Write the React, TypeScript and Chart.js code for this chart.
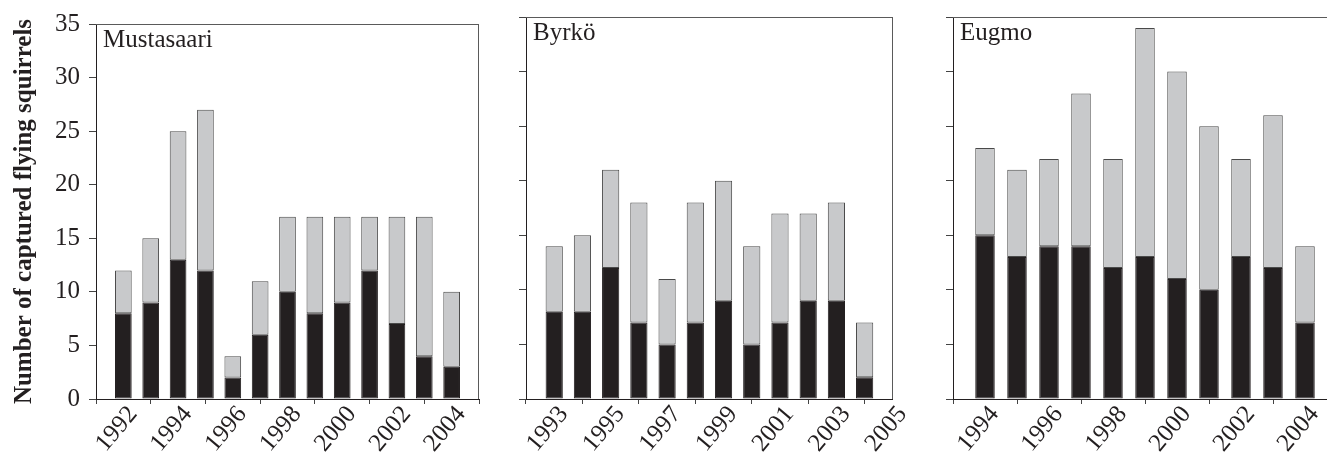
import React, { useEffect, useRef } from "react";
import { Chart, registerables } from "chart.js";

Chart.register(...registerables);

const FONT = '"Liberation Serif", "Times New Roman", serif';
const INK = "#231f20";
const LIGHT = "#c8c9cb";

const yTickValues = [0, 5, 10, 15, 20, 25, 30, 35];
const yTitle = "Number of captured flying squirrels";

// Mustasaari
const mustYears = [1992, 1993, 1994, 1995, 1996, 1997, 1998, 1999, 2000, 2001, 2002, 2003, 2004];
const mustBlack = [8, 9, 13, 12, 2, 6, 10, 8, 9, 12, 7, 4, 3];
const mustGray = [4, 6, 12, 15, 2, 5, 7, 9, 8, 5, 10, 13, 7];
const mustTicks = [1992, 1994, 1996, 1998, 2000, 2002, 2004];

// Byrkö
const byrYears = [1993, 1994, 1995, 1996, 1997, 1998, 1999, 2000, 2001, 2002, 2003, 2004];
const byrBlack = [8, 8, 12, 7, 5, 7, 9, 5, 7, 9, 9, 2];
const byrGray = [6, 7, 9, 11, 6, 11, 11, 9, 10, 8, 9, 5];
const byrTicks = [1993, 1995, 1997, 1999, 2001, 2003, 2005];

// Eugmo
const eugYears = [1994, 1995, 1996, 1997, 1998, 1999, 2000, 2001, 2002, 2003, 2004];
const eugBlack = [15, 13, 14, 14, 12, 13, 11, 10, 13, 12, 7];
const eugGray = [8, 8, 8, 14, 10, 21, 19, 15, 9, 14, 7];
const eugTicks = [1994, 1996, 1998, 2000, 2002, 2004];

type Panel = {
  name: string;
  years: number[];
  black: number[];
  gray: number[];
  ticks: number[];
  xMin: number;
  xMax: number;
  left: number;
  width: number;
  yWidth: number;
  padRight: number;
  showY: boolean;
};

const panels: Panel[] = [
  { name: "Mustasaari", years: mustYears, black: mustBlack, gray: mustGray, ticks: mustTicks, xMin: 1991, xMax: 2005, left: 0, width: 490, yWidth: 96, padRight: 11, showY: true },
  { name: "Byrkö", years: byrYears, black: byrBlack, gray: byrGray, ticks: byrTicks, xMin: 1992, xMax: 2005, left: 490, width: 420, yWidth: 36, padRight: 2, showY: false },
  { name: "Eugmo", years: eugYears, black: eugBlack, gray: eugGray, ticks: eugTicks, xMin: 1993, xMax: 2005, left: 910, width: 430, yWidth: 43, padRight: 3, showY: false },
];

const framePlugin = {
  id: "frameAndLabel",
  afterDatasetsDraw(chart: any, _args: any, opts: any) {
    const { ctx, chartArea: a } = chart;
    ctx.save();
    ctx.strokeStyle = "#5a5a5a";
    ctx.lineWidth = 1;
    ctx.beginPath();
    ctx.moveTo(a.left, Math.round(a.top) + 0.5);
    ctx.lineTo(a.right, Math.round(a.top) + 0.5);
    ctx.moveTo(Math.round(a.right) - 0.5, a.top);
    ctx.lineTo(Math.round(a.right) - 0.5, a.bottom);
    ctx.stroke();
    ctx.fillStyle = INK;
    ctx.font = `25px ${FONT}`;
    ctx.textBaseline = "alphabetic";
    ctx.textAlign = "left";
    ctx.fillText(opts.text, a.left + 7, a.top + 23);
    ctx.restore();
  },
};

function PanelChart({ p }: { p: Panel }) {
  const ref = useRef<HTMLCanvasElement | null>(null);
  useEffect(() => {
    if (!ref.current) return;
    const chart = new Chart(ref.current, {
      type: "bar",
      data: {
        datasets: [
          {
            data: p.years.map((x, i) => ({ x, y: p.black[i] })),
            backgroundColor: INK,
            borderColor: INK,
            borderWidth: 1,
            borderSkipped: false,
            barPercentage: 0.61,
            categoryPercentage: 1,
          },
          {
            data: p.years.map((x, i) => ({ x, y: p.gray[i] })),
            backgroundColor: LIGHT,
            borderColor: "#4a4a4a",
            borderWidth: 1,
            borderSkipped: false,
            barPercentage: 0.61,
            categoryPercentage: 1,
          },
        ],
      } as any,
      options: {
        animation: false,
        responsive: false,
        devicePixelRatio: 1,
        layout: { padding: { top: 17, right: p.padRight, left: 0, bottom: 0 } },
        plugins: {
          legend: { display: false },
          tooltip: { enabled: false },
          frameAndLabel: { text: p.name },
        } as any,
        scales: {
          x: {
            type: "linear",
            min: p.xMin,
            max: p.xMax,
            stacked: true,
            offset: false,
            grid: { drawOnChartArea: false, drawTicks: true, tickLength: 5, color: "#444" },
            border: { color: INK, width: 1 },
            ticks: {
              autoSkip: false,
              maxRotation: 50,
              minRotation: 50,
              padding: -2,
              color: INK,
              showLabelBackdrop: true,
              backdropColor: "rgba(0,0,0,0)",
              font: { family: FONT, size: 25, lineHeight: 1.0 },
              callback: (v: any) => String(v),
            },
            afterBuildTicks: (s: any) => {
              s.ticks = p.ticks.map((v) => ({ value: v }));
            },
            afterFit: (s: any) => {
              s.height = 57;
            },
          },
          y: {
            type: "linear",
            min: 0,
            max: 35,
            stacked: true,
            grid: { drawOnChartArea: false, drawTicks: true, tickLength: 7, color: "#444" },
            border: { color: INK, width: 1 },
            ticks: {
              display: p.showY,
              padding: 9,
              color: INK,
              font: { family: FONT, size: 25 },
            },
            title: {
              display: p.showY,
              text: yTitle,
              color: INK,
              font: { family: FONT, size: 25, weight: "bold" },
              padding: { top: 10, bottom: 0 },
            },
            afterBuildTicks: (s: any) => {
              s.ticks = yTickValues.map((v) => ({ value: v }));
            },
            afterFit: (s: any) => {
              s.width = p.yWidth;
            },
          },
        } as any,
      },
      plugins: [framePlugin as any],
    });
    return () => chart.destroy();
  }, [p]);
  return (
    <canvas
      ref={ref}
      width={p.width}
      height={456}
      style={{ position: "absolute", left: p.left, top: 0, width: p.width, height: 456 }}
    />
  );
}

export default function App() {
  return (
    <div
      style={{
        position: "fixed",
        left: 0,
        top: 0,
        width: 1327,
        height: 456,
        overflow: "hidden",
        background: "#fff",
      }}
    >
      {panels.map((p) => (
        <PanelChart key={p.name} p={p} />
      ))}
    </div>
  );
}
